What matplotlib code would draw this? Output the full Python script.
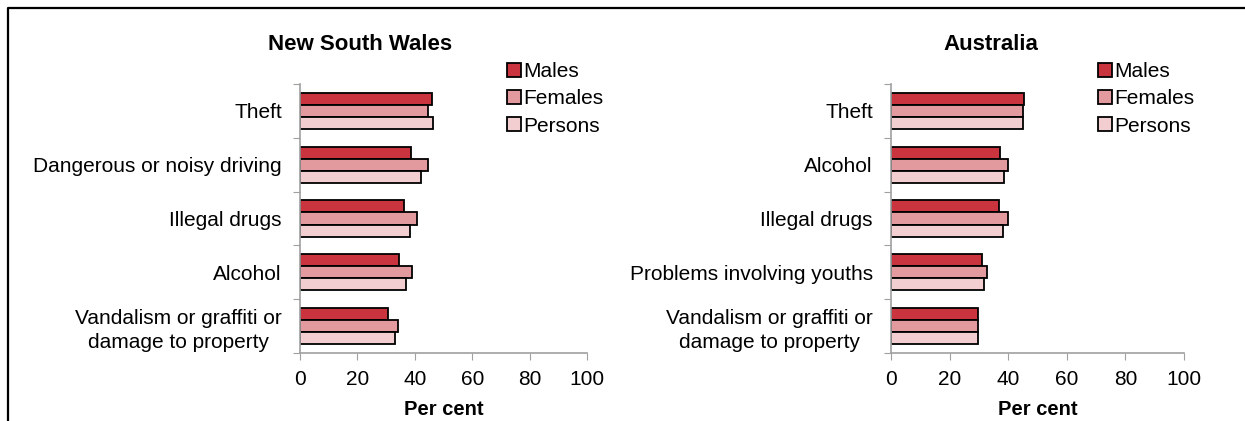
import numpy as np
import matplotlib.pyplot as plt
from matplotlib.lines import Line2D

plt.rcParams['font.family'] = ['Liberation Sans', 'DejaVu Sans']

# Datos
nsw_cats = ['Theft', 'Dangerous or noisy driving', 'Illegal drugs', 'Alcohol',
            'Vandalism or graffiti or\ndamage to property']
nsw_males = [46.0, 38.7, 36.2, 34.4, 30.7]
nsw_females = [44.5, 44.5, 40.6, 39.0, 34.0]
nsw_persons = [46.3, 42.0, 38.2, 37.1, 33.0]

aus_cats = ['Theft', 'Alcohol', 'Illegal drugs', 'Problems involving youths',
            'Vandalism or graffiti or\ndamage to property']
aus_males = [45.3, 37.3, 36.9, 31.1, 29.8]
aus_females = [45.0, 39.8, 39.8, 32.6, 29.8]
aus_persons = [45.0, 38.7, 38.1, 31.8, 29.8]

series = ['Males', 'Females', 'Persons']
colors = ['#C9343F', '#E39A9F', '#F2CED1']

W, H = 1245, 421
fig = plt.figure(figsize=(W / 100, H / 100), dpi=100)


def panel(left, right, cats, vals, title, title_x, leg_x):
    ax = fig.add_axes([left / W, 1 - 353 / H, (right - left) / W, (353 - 84) / H])
    y = np.arange(len(cats))
    h = 0.225
    for k, (v, c, name) in enumerate(zip(vals, colors, series)):
        ax.barh(y + (k - 1) * h, v, height=h, color=c, edgecolor='black',
                linewidth=1.3, label=name)
    ax.set_ylim(4.5, -0.5)
    ax.set_xlim(0, 100)
    ax.set_xticks([0, 20, 40, 60, 80, 100])
    ax.set_yticks(np.arange(-0.5, 5, 1))
    ax.set_yticklabels([])
    ax.set_yticks(y, minor=True)
    ax.set_yticklabels(cats, minor=True, fontsize=15)
    for t in ax.get_yticklabels(minor=True):
        t.set_multialignment('center')
        t.set_linespacing(1.3)
    ax.tick_params(axis='y', which='minor', length=0, pad=13)
    ax.tick_params(axis='y', which='major', length=5, color='#A0A0A0')
    ax.tick_params(axis='x', length=5, color='#A0A0A0', labelsize=15, pad=7)
    for s in ['top', 'right']:
        ax.spines[s].set_visible(False)
    for s in ['left', 'bottom']:
        ax.spines[s].set_color('#A0A0A0')
        ax.spines[s].set_linewidth(1.2)
    ax.set_xlabel('Per cent', fontsize=14.5, fontweight='bold', labelpad=8)
    fig.text(title_x / W, 1 - 45 / H, title, fontsize=16, fontweight='bold',
             ha='center', va='center')
    fig.legend(*ax.get_legend_handles_labels(), loc='upper left',
               bbox_to_anchor=(leg_x / W, 1 - 62 / H), frameon=False,
               fontsize=15, handlelength=0.65, handleheight=0.65,
               handletextpad=0.15, labelspacing=0.4, borderpad=0,
               borderaxespad=0)
    return ax


panel(300, 587, nsw_cats, [nsw_males, nsw_females, nsw_persons],
      'New South Wales', 360, 507)
panel(891, 1184, aus_cats, [aus_males, aus_females, aus_persons],
      'Australia', 991, 1098)

# marco
fig.add_artist(Line2D([8 / W, 8 / W, 1], [0, 1 - 8 / H, 1 - 8 / H],
                      transform=fig.transFigure, color='black', linewidth=1.6))

fig.savefig('out.png', dpi=100)
